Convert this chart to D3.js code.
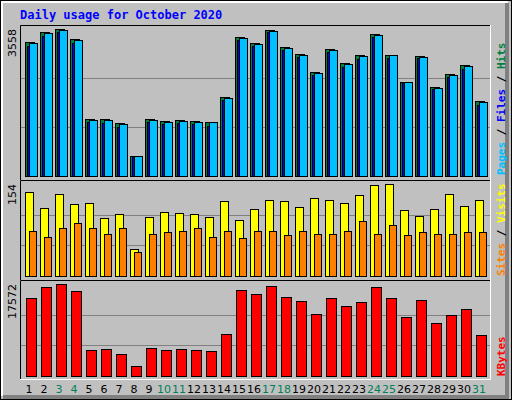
<!DOCTYPE html>
<html><head><meta charset="utf-8">
<script src="https://cdn.jsdelivr.net/npm/d3@7/dist/d3.min.js"></script>
<style>body{margin:0;background:#fff}svg{display:block}</style>
</head><body>
<svg id="c" width="512" height="400"></svg>
<script>
const days = d3.range(1, 32).map(String);
const weekend = ["3","4","10","11","17","18","24","25","31"];
const hits = [3243,3477,3558,3308,1380,1380,1283,484,1380,1331,1355,1331,1307,1912,3364,3219,3533,3114,2945,2517,3066,2727,2921,3436,2921,2268,2897,2147,2461,2679,1808];
const files = [3150,3400,3490,3230,1300,1290,1180,460,1300,1260,1280,1250,1220,1850,3300,3150,3480,3040,2880,2440,3000,2650,2840,3370,2860,2240,2850,2100,2400,2600,1730];
const pages = [3218,3452,3533,3283,1355,1355,1258,484,1355,1306,1330,1306,1307,1887,3339,3194,3508,3089,2920,2492,3041,2702,2896,3411,2921,2268,2872,2122,2436,2654,1783];
const visits = [140,113,138,120,123,97,103,45,98,107,105,103,98,125,93,112,127,125,115,130,127,123,135,153,154,110,100,112,138,117,127];
const sites = [75,65,80,88,81,70,81,40,70,73,75,81,66,75,63,76,75,68,75,70,70,75,92,71,85,68,73,71,70,73,73];
const kbytes = [14878,16994,17572,16225,4874,5066,4297,1988,5259,4874,5066,4874,4682,7952,16417,15648,17187,15070,14301,11800,14878,13339,14109,16994,14878,11223,14493,10068,11608,12762,7760];
const maxHits = 3558, maxVisits = 154, maxKB = 17572;

const svg = d3.select("#c");
svg.append("rect").attr("width",512).attr("height",400).attr("fill","#C0C0C0");
svg.append("rect").attr("x",0.5).attr("y",0.5).attr("width",511).attr("height",399).attr("fill","none").attr("stroke","#000");
svg.append("path").attr("d","M2,396V2H508").attr("stroke","#fff").attr("stroke-width",2).attr("fill","none");
svg.append("path").attr("d","M507,3V397H3").attr("stroke","#808080").attr("stroke-width",4).attr("fill","none");

svg.append("text").attr("x",20).attr("y",19).attr("fill","#0000FF").attr("font-family","DejaVu Sans Mono, monospace").attr("font-weight","bold").attr("font-size",12).text("Daily usage for October 2020");

const x = d3.scaleBand().domain(days).range([20,485]).paddingInner(0);
const L = 20, R = 490;
function panel(y0,y1){
  svg.append("path").attr("d",`M${L+0.5},${y1}V${y0+0.5}H${R}`).attr("stroke","#000").attr("fill","none");
  svg.append("path").attr("d",`M${R+0.5},${y0}V${y1+0.5}H${L}`).attr("stroke","#fff").attr("fill","none");
}
function grid(y){ [1/3,2/3].forEach(f=>{const yy=Math.round(y(y.domain()[1]*f))+0.5;
  svg.append("line").attr("x1",L+1).attr("x2",R).attr("y1",yy).attr("y2",yy).attr("stroke","#808080");});}
function bars(data, y, dx, w, color){
  svg.append("g").selectAll("rect").data(data).join("rect")
    .attr("x",(d,i)=>x(days[i])+dx+0.5).attr("width",w)
    .attr("y",d=>Math.round(y(d))+0.5).attr("height",d=>y(0)-Math.round(y(d)))
    .attr("fill",color).attr("stroke","#000");
}
function ylab(txt, yTop){
  svg.append("text").attr("transform",`translate(16,${yTop}) rotate(-90)`).attr("text-anchor","end")
   .attr("font-family","DejaVu Sans, sans-serif").attr("font-size",11).text(txt);
}
function rlab(parts, yBottom){
  const t = svg.append("text").attr("transform",`translate(505,${yBottom}) rotate(-90)`)
    .attr("font-family","DejaVu Sans Mono, monospace").attr("font-weight","bold").attr("font-size",11);
  parts.forEach(p=>t.append("tspan").attr("fill",p[1]).text(p[0]));
}

// top panel
panel(25,180);
const y1 = d3.scaleLinear().domain([0,maxHits]).range([176,29]);
grid(y1);
bars(hits,y1,5,9,"#008040");
bars(files,y1,7,8,"#0000FF");
bars(pages,y1,9,8,"#00C0FF");
ylab(String(maxHits),29);
rlab([["Pages","#00C0FF"],[" / ","#000"],["Files","#0000FF"],[" / ","#000"],["Hits","#008040"]],175);

// middle
panel(180,280);
const y2 = d3.scaleLinear().domain([0,maxVisits]).range([276,184]);
grid(y2);
bars(visits,y2,5,8,"#FFFF00");
bars(sites,y2,9,7,"#FF8000");
ylab(String(maxVisits),184);
rlab([["Sites","#FF8000"],[" / ","#000"],["Visits","#FFFF00"]],276);

// bottom
panel(280,379);
const y3 = d3.scaleLinear().domain([0,maxKB]).range([376,284]);
grid(y3);
bars(kbytes,y3,6,10,"#FF0000");
ylab(String(maxKB),284);
rlab([["KBytes","#FF0000"]],376);

svg.append("g").selectAll("text").data(days).join("text")
  .attr("x",d=>x(d)+x.bandwidth()/2+1.5).attr("y",393).attr("text-anchor","middle")
  .attr("font-family","DejaVu Sans, sans-serif").attr("font-size",11)
  .attr("fill",d=>weekend.includes(d)?"#00805A":"#000").text(d=>d);
</script>
</body></html>
